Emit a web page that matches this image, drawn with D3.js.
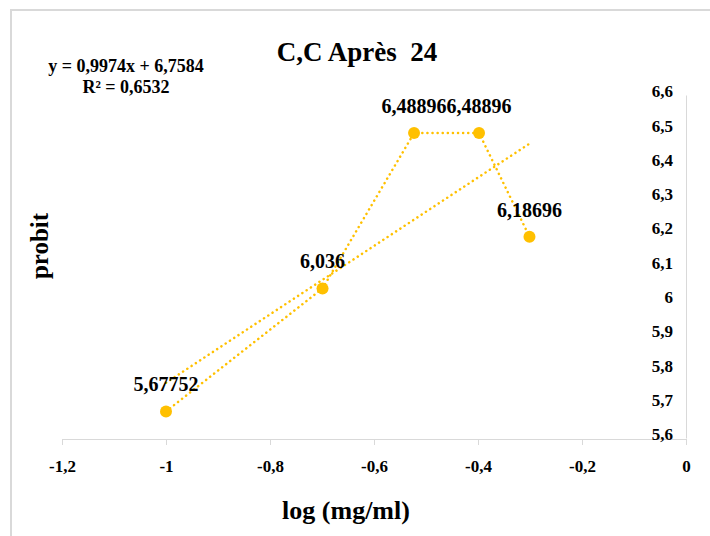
<!DOCTYPE html>
<html>
<head>
<meta charset="utf-8">
<script src="https://cdn.jsdelivr.net/npm/d3@7"></script>
<style>
  html, body { margin: 0; padding: 0; background: #fff; }
  svg { display: block; }
</style>
</head>
<body>
<svg id="chart"></svg>
<script>
// data
const logDose = [-1, -0.699, -0.523, -0.398, -0.301];
const probit = [5.67752, 6.036, 6.48896, 6.48896, 6.18696];
const pointLabels = ["5,67752", "6,036", "6,48896", "6,48896", "6,18696"];
const trendSlope = 0.9974;
const trendIntercept = 6.7584;
const xTicks = [-1.2, -1, -0.8, -0.6, -0.4, -0.2, 0];
const yTicks = [5.6, 5.7, 5.8, 5.9, 6, 6.1, 6.2, 6.3, 6.4, 6.5, 6.6];

const W = 710, H = 536;
const margin = { top: 95, right: 24, bottom: 98, left: 62 };
const w = W - margin.left - margin.right;
const h = H - margin.top - margin.bottom;
const FONT = "'Liberation Serif', 'Times New Roman', serif";
const GOLD = "#FFC000";
const fmt = (v) => String(+v.toFixed(2)).replace(".", ",");

const svg = d3.select("#chart").attr("width", W).attr("height", H);

// chart border (only top and left show)
svg.append("path")
  .attr("d", `M11,${H} L11,10 L${W},10`)
  .attr("fill", "none")
  .attr("stroke", "#d9d9d9")
  .attr("stroke-width", 2);

const x = d3.scaleLinear().domain([-1.2, 0]).range([0, w]);
const y = d3.scaleLinear().domain([5.6, 6.6]).range([h, 0]);

const g = svg.append("g").attr("transform", `translate(${margin.left},${margin.top})`);

// x axis
const xAxis = g.append("g")
  .attr("transform", `translate(0,${h + 1})`)
  .call(d3.axisBottom(x).tickValues(xTicks).tickSize(6).tickFormat(fmt));
xAxis.select(".domain").attr("stroke", "#d9d9d9");
xAxis.selectAll(".tick line").attr("stroke", "#d9d9d9");
xAxis.selectAll(".tick text")
  .attr("dy", 0).attr("y", 33)
  .attr("font-family", FONT).attr("font-size", 17).attr("font-weight", "bold").attr("fill", "#000");

// y axis sits at x = 0 (right edge), labels to its left
const yAxis = g.append("g")
  .attr("transform", `translate(${w},0)`)
  .call(d3.axisLeft(y).tickValues(yTicks).tickSize(0).tickFormat(fmt));
yAxis.select(".domain").attr("stroke", "#d9d9d9");
yAxis.selectAll(".tick text")
  .attr("x", -13).attr("dy", "0.1em")
  .attr("font-family", FONT).attr("font-size", 17).attr("font-weight", "bold").attr("fill", "#000");

// trend line
const tx = d3.extent(logDose);
g.append("line")
  .attr("x1", x(tx[0])).attr("y1", y(trendSlope * tx[0] + trendIntercept))
  .attr("x2", x(tx[1])).attr("y2", y(trendSlope * tx[1] + trendIntercept))
  .attr("stroke", GOLD).attr("stroke-width", 2.5)
  .attr("stroke-dasharray", "0.1 5").attr("stroke-linecap", "round");

// series line
const pts = logDose.map((d, i) => [d, probit[i]]);
g.append("path")
  .datum(pts)
  .attr("d", d3.line().x((d) => x(d[0])).y((d) => y(d[1])))
  .attr("fill", "none")
  .attr("stroke", GOLD).attr("stroke-width", 2.5)
  .attr("stroke-dasharray", "0.1 5").attr("stroke-linecap", "round");

g.selectAll("circle.pt")
  .data(pts)
  .join("circle")
  .attr("class", "pt")
  .attr("cx", (d) => x(d[0])).attr("cy", (d) => y(d[1]))
  .attr("r", 6).attr("fill", GOLD);

g.selectAll("text.lbl")
  .data(pts)
  .join("text")
  .attr("class", "lbl")
  .attr("x", (d) => x(d[0])).attr("y", (d) => y(d[1]) - 20)
  .attr("text-anchor", "middle")
  .attr("font-family", FONT).attr("font-size", 20).attr("font-weight", "bold")
  .text((d, i) => pointLabels[i]);

// titles
svg.append("text")
  .attr("x", 357).attr("y", 61)
  .attr("text-anchor", "middle")
  .attr("font-family", FONT).attr("font-size", 27).attr("font-weight", "bold")
  .attr("xml:space", "preserve")
  .text("C,C Après  24");

svg.append("text")
  .attr("x", 126).attr("y", 72)
  .attr("text-anchor", "middle")
  .attr("font-family", FONT).attr("font-size", 18).attr("font-weight", "bold")
  .text("y = 0,9974x + 6,7584");
svg.append("text")
  .attr("x", 126).attr("y", 93)
  .attr("text-anchor", "middle")
  .attr("font-family", FONT).attr("font-size", 18).attr("font-weight", "bold")
  .text("R² = 0,6532");

svg.append("text")
  .attr("transform", "translate(48,246) rotate(-90)")
  .attr("text-anchor", "middle")
  .attr("font-family", FONT).attr("font-size", 25).attr("font-weight", "bold")
  .text("probit");

svg.append("text")
  .attr("x", 346).attr("y", 519)
  .attr("text-anchor", "middle")
  .attr("font-family", FONT).attr("font-size", 26).attr("font-weight", "bold")
  .text("log (mg/ml)");
</script>
</body>
</html>
